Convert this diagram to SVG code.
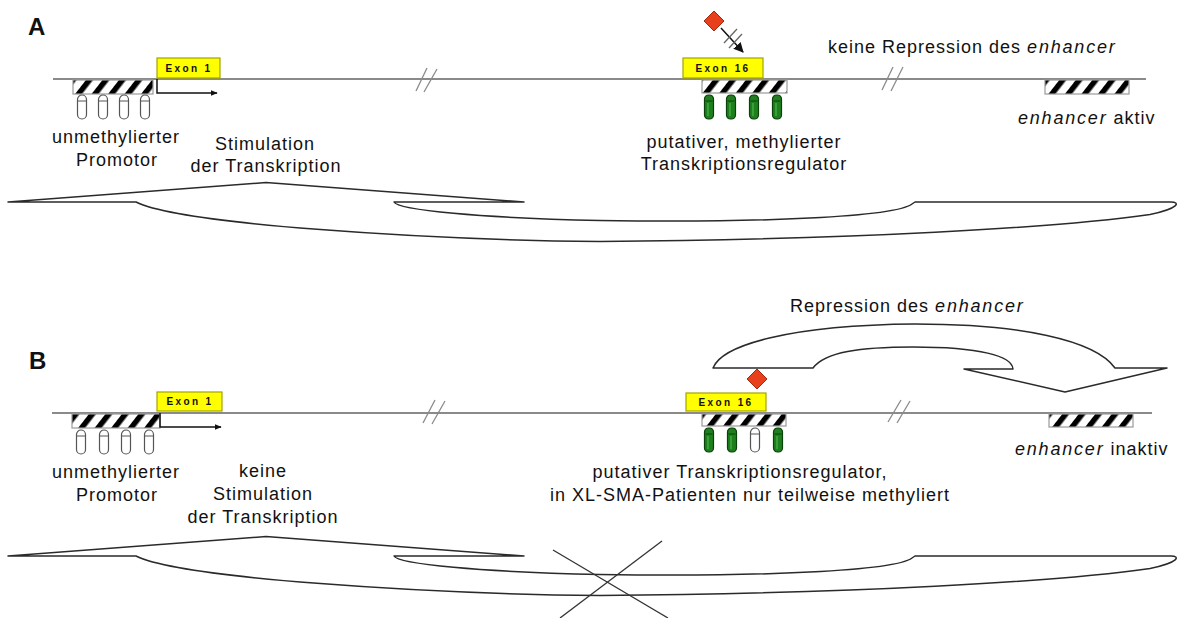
<svg xmlns="http://www.w3.org/2000/svg" width="1177" height="618" viewBox="0 0 1177 618">
  <style>
    .dna { stroke: #8a8a8a; stroke-width: 2; fill: none; }
    .brk { stroke: #8a8a8a; stroke-width: 1.3; fill: none; }
    .hatch { fill: url(#stripes); stroke: #9a9a9a; stroke-width: 1.2; }
    .exon { fill: #ffff00; stroke: #a3a300; stroke-width: 1.2; }
    .exon-t { font-family: "Liberation Sans", Arial, sans-serif; font-weight: bold; font-size: 10px; letter-spacing: 2.4px; fill: #111; text-anchor: middle; }
    .lbl { font-family: "Liberation Sans", Arial, sans-serif; font-size: 18px; letter-spacing: 1px; fill: #111; }
    .mid { text-anchor: middle; }
    .it { font-style: italic; letter-spacing: 1.8px; }
    .panel { font-family: "Liberation Sans", Arial, sans-serif; font-weight: bold; font-size: 24px; fill: #111; }
    .big { fill: #fff; stroke: #2a2a2a; stroke-width: 1.5; stroke-linejoin: round; }
    .tss { stroke: #111; stroke-width: 1.5; fill: none; }
    .x { stroke: #333; stroke-width: 1.3; }
    .meth { fill: #e8401c; stroke: #a02a10; stroke-width: 1; }
  </style>
  <defs>
    <pattern id="stripes" width="13" height="13" patternUnits="userSpaceOnUse" patternTransform="rotate(38)">
      <rect x="0" y="0" width="5.5" height="13" fill="#000"/>
    </pattern>
    <marker id="head" viewBox="0 0 10 10" refX="9" refY="5" markerWidth="7" markerHeight="7" orient="auto" markerUnits="userSpaceOnUse">
      <path d="M0,1 L10,5 L0,9 Z" fill="#111"/>
    </marker>
    <marker id="head2" viewBox="0 0 10 10" refX="9" refY="5" markerWidth="10" markerHeight="10" orient="auto" markerUnits="userSpaceOnUse">
      <path d="M0,0 L10,5 L0,10 Z" fill="#111"/>
    </marker>
    <!-- unmethylated CpG site -->
    <g id="cpgU">
      <rect x="-4.5" y="0" width="9" height="24" rx="4.5" fill="#fff" stroke="#555" stroke-width="1.2"/>
      <line x1="-4" y1="6" x2="4" y2="6" stroke="#555" stroke-width="1"/>
    </g>
    <!-- methylated CpG site -->
    <g id="cpgM">
      <rect x="-4.5" y="0" width="9" height="24" rx="4" fill="#1f7f1f" stroke="#0b420b" stroke-width="1.2"/>
      <line x1="-3.5" y1="6" x2="3.5" y2="6" stroke="#0b420b" stroke-width="1"/>
      <line x1="-1" y1="8" x2="-1" y2="21" stroke="#3fae3f" stroke-width="1.5"/>
    </g>
    <!-- broad curved arrow: stimulation of transcription -->
    <path id="stim" d="M8,202 L266,182.5 L524,202 L394,202 C398,210 480,218 600,220.5 C760,223 895,217 912,204 L915,202 L1171,202 C1180,202 1180,208 1150,214.5 C1060,227.5 850,239.7 600,241.5 C420,239.7 180,224 136,202 Z"/>
  </defs>

  <rect width="1177" height="618" fill="#fff"/>

  <!-- ===================== Panel A ===================== -->
  <g id="panel-a">
    <text class="panel" x="28" y="35">A</text>

    <g id="a-dna">
      <line class="dna" x1="53" y1="79" x2="1146" y2="79"/>
      <line class="brk" x1="416" y1="91" x2="427" y2="68"/>
      <line class="brk" x1="424" y1="92" x2="437" y2="69"/>
      <line class="brk" x1="882" y1="90" x2="893" y2="67"/>
      <line class="brk" x1="891" y1="91" x2="903" y2="67"/>
    </g>

    <g id="a-promoter">
      <rect class="hatch" x="73" y="80" width="80" height="14"/>
      <use href="#cpgU" x="82" y="95"/>
      <use href="#cpgU" x="103" y="95"/>
      <use href="#cpgU" x="124" y="95"/>
      <use href="#cpgU" x="145" y="95"/>
      <text class="lbl mid" x="116" y="143">unmethylierter</text>
      <text class="lbl mid" x="117" y="166">Promotor</text>
    </g>

    <g id="a-exon1">
      <rect class="exon" x="157" y="58" width="63" height="20"/>
      <text class="exon-t" x="189" y="72">Exon 1</text>
    </g>

    <g id="a-regulator">
      <rect class="exon" x="683" y="58" width="80" height="20"/>
      <text class="exon-t" x="723" y="72">Exon 16</text>
      <rect class="hatch" x="702" y="80" width="85" height="13"/>
      <use href="#cpgM" x="709" y="95"/>
      <use href="#cpgM" x="731" y="95"/>
      <use href="#cpgM" x="754" y="95"/>
      <use href="#cpgM" x="777" y="95"/>
      <text class="lbl mid" x="744" y="148">putativer, methylierter</text>
      <text class="lbl mid" x="744" y="170">Transkriptionsregulator</text>
    </g>

    <g id="a-factor">
      <path class="meth" d="M714,11 L724,21 L714,31 L704,21 Z"/>
    </g>

    <g id="a-enhancer">
      <rect class="hatch" x="1045" y="80" width="84" height="14"/>
      <text class="lbl" x="1018" y="124"><tspan class="it">enhancer</tspan> aktiv</text>
    </g>

    <text id="a-stim-label" class="lbl mid" x="265" y="150">Stimulation</text>
    <text id="a-stim-label2" class="lbl mid" x="266" y="172">der Transkription</text>
    <text id="a-norep-label" class="lbl" x="828" y="53">keine Repression des <tspan class="it">enhancer</tspan></text>
  </g>

  <!-- ===================== Panel B ===================== -->
  <g id="panel-b">
    <text class="panel" x="29" y="369">B</text>

    <g id="b-dna">
      <line class="dna" x1="52" y1="413" x2="1152" y2="413"/>
      <line class="brk" x1="423" y1="423" x2="435" y2="400"/>
      <line class="brk" x1="432" y1="424" x2="445" y2="401"/>
      <line class="brk" x1="888" y1="422" x2="901" y2="400"/>
      <line class="brk" x1="897" y1="423" x2="910" y2="401"/>
    </g>

    <g id="b-promoter">
      <rect class="hatch" x="72" y="414" width="88" height="14"/>
      <use href="#cpgU" x="81" y="430"/>
      <use href="#cpgU" x="104" y="430"/>
      <use href="#cpgU" x="126" y="430"/>
      <use href="#cpgU" x="149" y="430"/>
      <text class="lbl mid" x="116" y="478">unmethylierter</text>
      <text class="lbl mid" x="117" y="501">Promotor</text>
    </g>

    <g id="b-exon1">
      <rect class="exon" x="157" y="392" width="65" height="19"/>
      <text class="exon-t" x="190" y="405">Exon 1</text>
    </g>

    <g id="b-regulator">
      <rect class="exon" x="686" y="393" width="80" height="18"/>
      <text class="exon-t" x="726" y="406">Exon 16</text>
      <rect class="hatch" x="702" y="414" width="84" height="12"/>
      <use href="#cpgM" x="709" y="428"/>
      <use href="#cpgM" x="732" y="428"/>
      <use href="#cpgU" x="755" y="428"/>
      <use href="#cpgM" x="778" y="428"/>
      <text class="lbl mid" x="740" y="478">putativer Transkriptionsregulator,</text>
      <text class="lbl mid" x="750" y="501">in XL-SMA-Patienten nur teilweise methyliert</text>
    </g>

    <g id="b-factor">
      <path class="meth" d="M757,369 L767,379 L757,389 L747,379 Z"/>
    </g>

    <g id="b-enhancer">
      <rect class="hatch" x="1049" y="414" width="84" height="13"/>
      <text class="lbl" x="1015" y="455"><tspan class="it">enhancer</tspan> inaktiv</text>
    </g>

    <text id="b-stim-label0" class="lbl mid" x="263" y="477">keine</text>
    <text id="b-stim-label" class="lbl mid" x="263" y="500">Stimulation</text>
    <text id="b-stim-label2" class="lbl mid" x="263" y="523">der Transkription</text>
    <text id="b-rep-label" class="lbl" x="790" y="312">Repression des <tspan class="it">enhancer</tspan></text>
  </g>

  <!-- ===================== Connectors ===================== -->
  <g id="connectors">
    <!-- transcription start sites -->
    <path class="tss" d="M157,79 L157,93 L217,93" marker-end="url(#head)"/>
    <path class="tss" d="M160,413 L160,427 L221,427" marker-end="url(#head)"/>

    <!-- blocked binding of the factor in A -->
    <line x1="721" y1="28" x2="743" y2="52" stroke="#111" stroke-width="1.5" marker-end="url(#head2)"/>
    <line x1="724" y1="43" x2="737" y2="29" stroke="#666" stroke-width="1.3"/>
    <line x1="729" y1="48" x2="742" y2="34" stroke="#666" stroke-width="1.3"/>

    <!-- stimulation arrows -->
    <use href="#stim" class="big"/>
    <use href="#stim" class="big" y="354"/>

    <!-- repression arrow in B -->
    <path class="big" d="M713,368 C722,345 790,325 915,324 C1020,324 1095,340 1115,368 L1167,368 L1065,392 L964,369 L1013,369 C1012,356 980,347 913,347 C860,347 825,352 813,368 Z"/>

    <!-- crossed-out stimulation in B -->
    <line class="x" x1="553" y1="550" x2="668" y2="618"/>
    <line class="x" x1="662" y1="541" x2="560" y2="618"/>
  </g>
</svg>
